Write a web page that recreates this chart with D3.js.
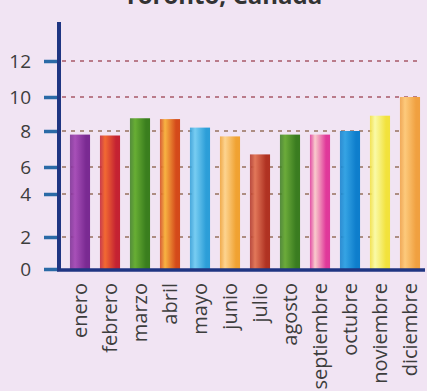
<!DOCTYPE html>
<html>
<head>
<meta charset="utf-8">
<script src="https://cdn.jsdelivr.net/npm/d3@7"></script>
<style>
  html, body { margin: 0; padding: 0; background: #f1e4f3; }
  svg { display: block; }
</style>
</head>
<body>
<div id="chart"></div>
<script>
// Data
const months = ["enero", "febrero", "marzo", "abril", "mayo", "junio", "julio",
  "agosto", "septiembre", "octubre", "noviembre", "diciembre"];
const values = [7.8, 7.75, 8.75, 8.7, 8.2, 7.7, 6.7, 7.8, 7.8, 8.0, 8.9, 10.0];
const yTicks = [0, 2, 4, 6, 8, 10, 12];
const title = "Toronto, Canadá";

// Bar colours, light side then dark side
const barColors = [
  ["#a850b8", "#7a2a92"], ["#f26a32", "#c42232"], ["#68ae34", "#3a7e1e"],
  ["#f8b442", "#d44a1a"], ["#78cdf2", "#2c9ed8"], ["#fdd490", "#f0a232"],
  ["#e2785a", "#b03222"], ["#6cab3a", "#3a7c20"], ["#f9cccc", "#e0389a"],
  ["#36a4e4", "#0e7ecc"], ["#fafaa8", "#f2e23c"], ["#fdca7c", "#f0a040"]
];

const width = 427;
const height = 391;

const svg = d3.select("#chart")
  .append("svg")
  .attr("width", width)
  .attr("height", height);

// Gradients for the cylinder look
const defs = svg.append("defs");
barColors.forEach((c, i) => {
  const g = defs.append("linearGradient")
    .attr("id", "grad" + i)
    .attr("x1", "0%").attr("x2", "100%")
    .attr("y1", "0%").attr("y2", "0%");
  g.append("stop").attr("offset", "0%").attr("stop-color", c[1]).attr("stop-opacity", 0.85);
  g.append("stop").attr("offset", "25%").attr("stop-color", c[0]);
  g.append("stop").attr("offset", "80%").attr("stop-color", c[1]);
  g.append("stop").attr("offset", "100%").attr("stop-color", c[1]);
});

// Title (cut off at the top edge, as in the original)
svg.append("text")
  .attr("x", 223)
  .attr("y", 4)
  .attr("text-anchor", "middle")
  .attr("font-family", "Open Sans, sans-serif")
  .attr("font-weight", "bold")
  .attr("font-size", 24)
  .attr("fill", "#333")
  .text(title);

// Scales - the original axis is not evenly spaced
const x = d3.scaleBand()
  .domain(months)
  .range([65, 425])
  .paddingInner(0.33)
  .paddingOuter(0.165);

const y = d3.scaleLinear()
  .domain(yTicks)
  .range([269, 237, 194, 167, 131, 97, 61]);

// Grid lines
svg.append("g")
  .selectAll("line")
  .data(yTicks.filter((d) => d > 0))
  .join("line")
  .attr("x1", 62)
  .attr("x2", 422)
  .attr("y1", (d) => y(d))
  .attr("y2", (d) => y(d))
  .attr("stroke", (d) => (d >= 10 ? "#a85868" : "#96705e"))
  .attr("stroke-width", 1.4)
  .attr("stroke-dasharray", "4,5");

// Bars
svg.append("g")
  .selectAll("rect")
  .data(values)
  .join("rect")
  .attr("x", (d, i) => x(months[i]))
  .attr("y", (d) => y(d))
  .attr("width", x.bandwidth())
  .attr("height", (d) => y(0) - y(d))
  .attr("fill", (d, i) => `url(#grad${i})`);

// Y axis
const yAxis = svg.append("g")
  .attr("transform", "translate(59,0)")
  .call(d3.axisLeft(y).tickValues(yTicks).tickSize(15).tickPadding(13));
yAxis.select(".domain").remove();
yAxis.selectAll(".tick line")
  .attr("stroke", "#2a6aa6")
  .attr("stroke-width", 3.5);
yAxis.selectAll(".tick text")
  .attr("font-family", "Open Sans, sans-serif")
  .attr("font-size", 19)
  .attr("fill", "#3d3d3d");

svg.append("line")
  .attr("x1", 59).attr("x2", 59)
  .attr("y1", 22).attr("y2", 271)
  .attr("stroke", "#1f3582")
  .attr("stroke-width", 4);

// X axis
const xAxis = svg.append("g")
  .attr("transform", "translate(0,270)")
  .call(d3.axisBottom(x).tickSize(0).tickPadding(0));
xAxis.select(".domain").remove();
xAxis.selectAll(".tick text")
  .attr("font-family", "Open Sans, sans-serif")
  .attr("font-size", 20)
  .attr("fill", "#3d3d3d")
  .attr("text-anchor", "end")
  .attr("dy", "0.35em")
  .attr("transform", "translate(0,13) rotate(-90)");

svg.append("line")
  .attr("x1", 57).attr("x2", 425)
  .attr("y1", 270).attr("y2", 270)
  .attr("stroke", "#1f3582")
  .attr("stroke-width", 3.5);
</script>
</body>
</html>
